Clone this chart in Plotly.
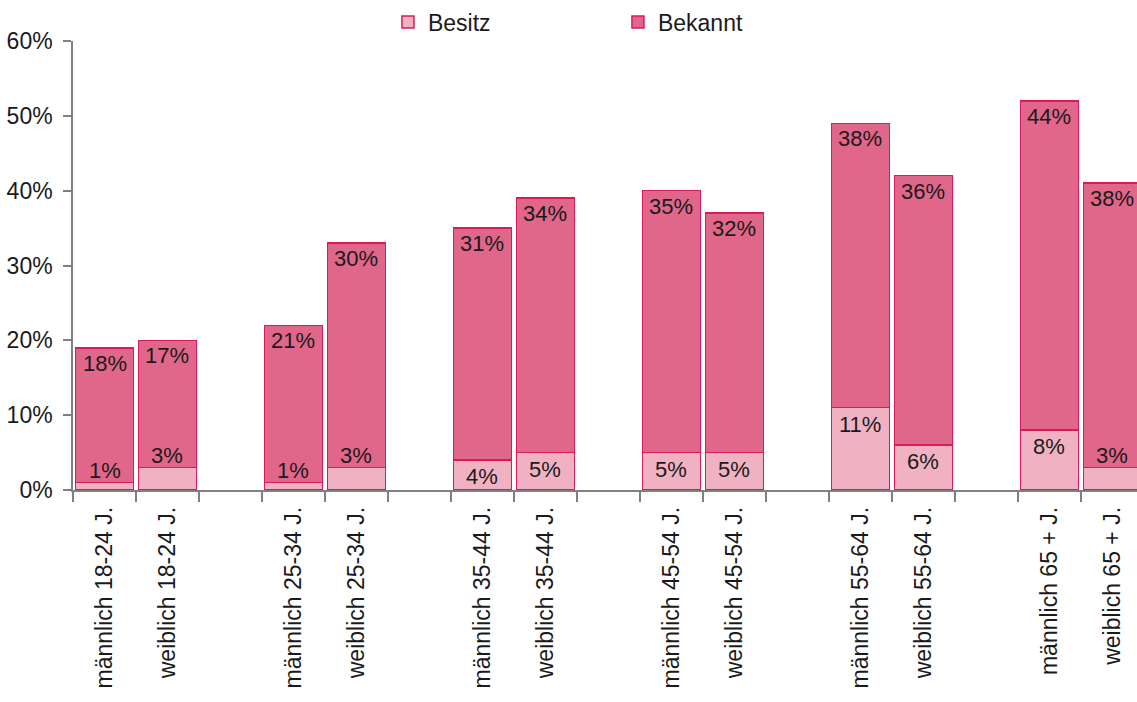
import plotly.graph_objects as go

# Data
categories = [
    "männlich 18-24 J.", "weiblich 18-24 J.", " ",
    "männlich 25-34 J.", "weiblich 25-34 J.", "  ",
    "männlich 35-44 J.", "weiblich 35-44 J.", "   ",
    "männlich 45-54 J.", "weiblich 45-54 J.", "    ",
    "männlich 55-64 J.", "weiblich 55-64 J.", "     ",
    "männlich 65 + J.", "weiblich 65 + J.",
]
besitz = [1, 3, None, 1, 3, None, 4, 5, None, 5, 5, None, 11, 6, None, 8, 3]
bekannt = [18, 17, None, 21, 30, None, 31, 34, None, 35, 32, None, 38, 36, None, 44, 38]
y_ticks = [0, 10, 20, 30, 40, 50, 60]
y_ticktext = [f"{v}%" for v in y_ticks]

FONT = "Liberation Sans"
FS = 23
LINE = "#D81B5B"
TXT = "#1a1a1a"
AX = "#808080"

fig = go.Figure()
fig.add_trace(go.Bar(
    x=categories, y=besitz, name="Besitz",
    marker=dict(color="#F0B2C3", line=dict(color=LINE, width=1.5)),
    hoverinfo="skip",
))
fig.add_trace(go.Bar(
    x=categories, y=bekannt, name="Bekannt",
    marker=dict(color="#E0668A", line=dict(color=LINE, width=1.5)),
    hoverinfo="skip",
))

annotations = []
for c, b, k in zip(categories, besitz, bekannt):
    if b is None:
        continue
    total = b + k
    annotations.append(dict(
        x=c, y=total, text=f"{k}%", showarrow=False, yanchor="top", yshift=-1,
        font=dict(size=22, color=TXT, family=FONT)))
    if b >= 4:
        annotations.append(dict(
            x=c, y=b, text=f"{b}%", showarrow=False, yanchor="top", yshift=-2,
            font=dict(size=22, color=TXT, family=FONT)))
    else:
        annotations.append(dict(
            x=c, y=b, text=f"{b}%", showarrow=False, yanchor="bottom", yshift=-2,
            font=dict(size=22, color=TXT, family=FONT)))

fig.update_layout(
    template="none",
    barmode="stack",
    bargap=0.08,
    width=1137, height=702,
    margin=dict(l=73, r=0, t=41, b=212, autoexpand=False),
    paper_bgcolor="white", plot_bgcolor="white",
    font=dict(family=FONT, size=FS, color=TXT),
    showlegend=True,
    legend=dict(
        orientation="h", x=0.296, xanchor="left", y=1.042, yanchor="middle",
        entrywidth=185, entrywidthmode="pixels",
        font=dict(size=FS, family=FONT, color=TXT),
        traceorder="normal", bgcolor="rgba(0,0,0,0)",
    ),
    annotations=annotations,
    xaxis=dict(
        type="category",
        categoryorder="array", categoryarray=categories,
        range=[-0.5, 16.39],
        tickson="boundaries",
        ticks="outside", ticklen=10, tickcolor=AX, tickwidth=1.5,
        showline=True, linecolor=AX, linewidth=1.5,
        tickangle=-90, automargin=False, ticklabelstandoff=6,
        tickfont=dict(size=FS, family=FONT, color=TXT),
        showgrid=False, zeroline=False,
    ),
    yaxis=dict(
        range=[0, 60], tickmode="array", tickvals=y_ticks, ticktext=y_ticktext,
        ticks="outside", ticklen=8, tickcolor=AX, tickwidth=1.5,
        showline=True, linecolor=AX, linewidth=1.5, automargin=False,
        ticklabelstandoff=6,
        tickfont=dict(size=FS, family=FONT, color=TXT),
        showgrid=False, zeroline=False,
    ),
)

fig.write_html("out.html", config={"displayModeBar": False},
               post_script="document.body.style.margin='0';")
